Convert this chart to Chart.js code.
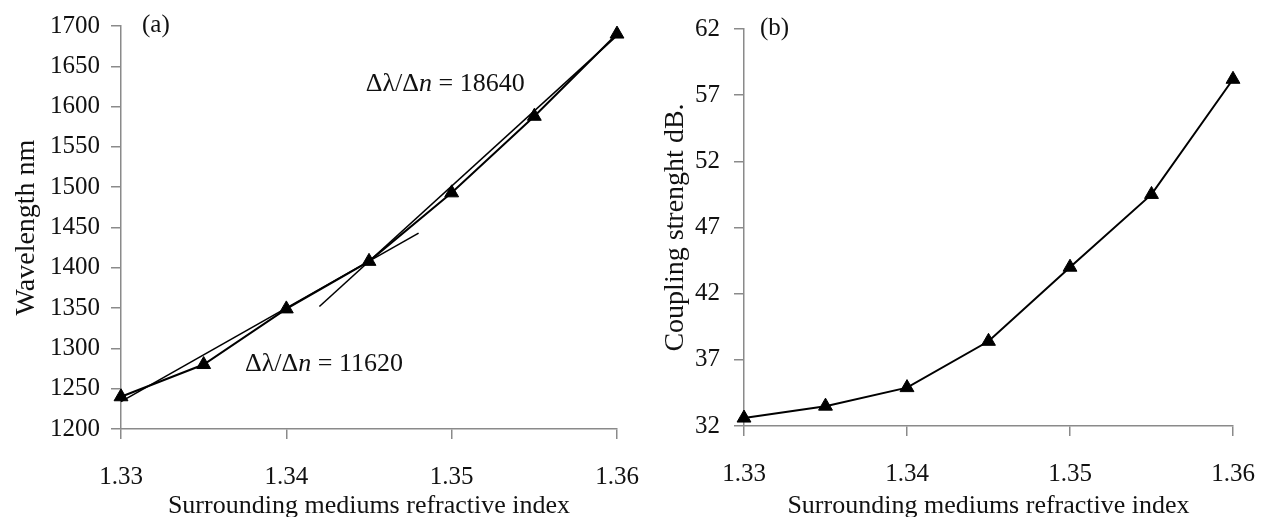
<!DOCTYPE html>
<html>
<head>
<meta charset="utf-8">
<script src="https://cdn.jsdelivr.net/npm/chart.js@4.4.0/dist/chart.umd.min.js"></script>
<style>
    html, body { margin: 0; padding: 0; background: #fff; overflow: hidden; }
    .box { position: absolute; top: 0; height: 522px; }
    #boxA { left: 0; width: 640px; }
    #boxB { left: 640px; width: 627px; }
</style>
</head>
<body>
<div class="box" id="boxA"><canvas id="chartA"></canvas></div>
<div class="box" id="boxB"><canvas id="chartB"></canvas></div>
<script>
// refractive index of the surrounding medium
var refIndex = [1.33, 1.335, 1.34, 1.345, 1.35, 1.355, 1.36];
// (a) resonance wavelength, nm
var wavelength = [1240, 1280, 1349, 1408, 1493, 1588, 1690];
// (b) coupling strength, dB
var coupling = [32.6, 33.5, 34.9, 38.4, 44.0, 49.5, 58.2];

// the two fitted slopes drawn on (a)
var slopeLowX = [1.33, 1.348];
var slopeLowY = [1234, 1443];
var slopeHighX = [1.342, 1.36];
var slopeHighY = [1352, 1688];

var xTicks = [1.33, 1.34, 1.35, 1.36];

var SERIF = '"Liberation Serif", "Times New Roman", serif';
var AXIS_GREY = '#8a8a8a';

function toPoints(xs, ys) {
    var points = [];
    for (var i = 0; i < xs.length; i++) {
        points.push({x: xs[i], y: ys[i]});
    }
    return points;
}

function markerDataset(xs, ys) {
    return {
        data: toPoints(xs, ys),
        borderColor: '#000',
        backgroundColor: '#000',
        borderWidth: 2,
        pointStyle: 'triangle',
        pointRadius: 8,
        pointBorderWidth: 1,
        pointBackgroundColor: '#000',
        pointBorderColor: '#000',
        tension: 0,
        clip: false
    };
}

function lineDataset(xs, ys) {
    return {
        data: toPoints(xs, ys),
        borderColor: '#000',
        borderWidth: 1.6,
        pointRadius: 0,
        tension: 0,
        clip: false
    };
}

// fixed scale sizes so both plot boxes land where they sit in the figure
function xScale(height, tickPadding) {
    return {
        type: 'linear',
        min: 1.33,
        max: 1.36,
        afterBuildTicks: function(scale) {
            scale.ticks = xTicks.map(function(v) { return {value: v}; });
        },
        afterFit: function(scale) {
            scale.height = height;
            scale.paddingLeft = 0;
            scale.paddingRight = 0;
        },
        grid: { drawOnChartArea: false, drawTicks: true, tickLength: 10, color: AXIS_GREY, lineWidth: 1.5 },
        border: { display: true, color: AXIS_GREY, width: 1.5 },
        ticks: {
            padding: tickPadding,
            color: '#111',
            maxRotation: 0,
            font: { family: SERIF, size: 25 },
            callback: function(v) { return v.toFixed(2); }
        },
        title: {
            display: true,
            text: 'Surrounding mediums refractive index',
            color: '#111',
            font: { family: SERIF, size: 26 },
            padding: { top: 0, bottom: 0 }
        }
    };
}

function yScale(min, max, step, width, tickPadding, title, titlePad) {
    return {
        type: 'linear',
        min: min,
        max: max,
        afterFit: function(scale) { scale.width = width; },
        grid: { drawOnChartArea: false, drawTicks: true, tickLength: 10, color: AXIS_GREY, lineWidth: 1.5 },
        border: { display: true, color: AXIS_GREY, width: 1.5 },
        ticks: {
            stepSize: step,
            padding: tickPadding,
            color: '#111',
            font: { family: SERIF, size: 25 },
            callback: function(v) { return String(v); }
        },
        title: {
            display: true,
            text: title,
            color: '#111',
            font: { family: SERIF, size: 28 },
            padding: { top: titlePad, bottom: 0 }
        }
    };
}

// draws a run of text pieces, some of them italic
function drawRuns(ctx, runs, x, y, size) {
    ctx.textBaseline = 'middle';
    ctx.textAlign = 'left';
    for (var i = 0; i < runs.length; i++) {
        ctx.font = (runs[i].italic ? 'italic ' : '') + size + 'px ' + SERIF;
        ctx.fillText(runs[i].text, x, y);
        x += ctx.measureText(runs[i].text).width;
    }
}

function slopeRuns(value) {
    return [
        {text: '\u0394\u03bb/\u0394'},
        {text: 'n', italic: true},
        {text: ' = ' + value}
    ];
}

// panel letter and slope notes, anchored on the scales
function notesPlugin(letter, letterShift, notes) {
    return {
        id: 'notes',
        afterDatasetsDraw: function(chart) {
            var ctx = chart.ctx;
            var area = chart.chartArea;
            ctx.save();
            ctx.fillStyle = '#111';
            drawRuns(ctx, [{text: letter}], area.left + letterShift, area.top - 1, 25);
            for (var i = 0; i < notes.length; i++) {
                var px = chart.scales.x.getPixelForValue(notes[i].x);
                var py = chart.scales.y.getPixelForValue(notes[i].y);
                drawRuns(ctx, slopeRuns(notes[i].value), px, py, 26);
            }
            ctx.restore();
        }
    };
}

function baseOptions(padding, xs, ys) {
    return {
        responsive: true,
        maintainAspectRatio: false,
        animation: false,
        layout: { padding: padding },
        plugins: { legend: { display: false }, tooltip: { enabled: false } },
        scales: { x: xs, y: ys }
    };
}

new Chart(document.getElementById('chartA'), {
    type: 'line',
    data: {
        datasets: [
            lineDataset(slopeLowX, slopeLowY),
            lineDataset(slopeHighX, slopeHighY),
            markerDataset(refIndex, wavelength)
        ]
    },
    options: baseOptions(
        { top: 25, right: 23, left: 0, bottom: 0 },
        xScale(93, 23),
        yScale(1200, 1700, 50, 121, 11, 'Wavelength nm', 10)
    ),
    plugins: [notesPlugin('(a)', 21, [
        {x: 1.3448, y: 1628, value: '18640'},
        {x: 1.3375, y: 1281, value: '11620'}
    ])]
});

new Chart(document.getElementById('chartB'), {
    type: 'line',
    data: {
        datasets: [markerDataset(refIndex, coupling)]
    },
    options: baseOptions(
        { top: 29, right: 34, left: 0, bottom: 0 },
        xScale(96, 23),
        yScale(32, 62, 5, 104, 14, 'Coupling strenght dB.', 19)
    ),
    plugins: [notesPlugin('(b)', 16, [])]
});
</script>
</body>
</html>
